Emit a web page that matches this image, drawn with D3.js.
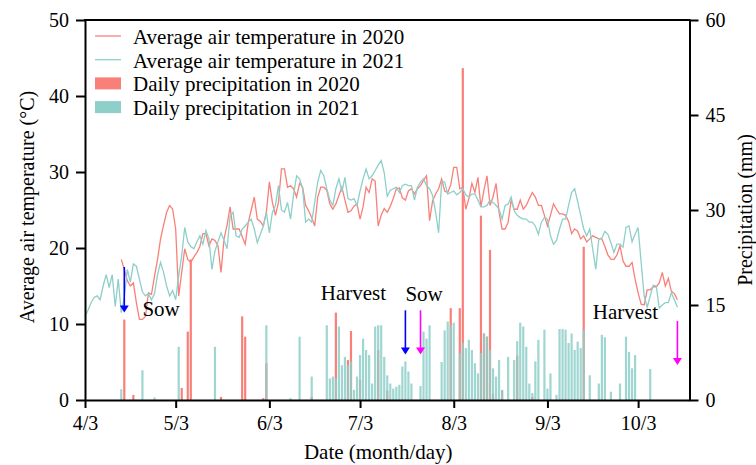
<!DOCTYPE html>
<html>
<head>
<meta charset="utf-8">
<script src="https://cdn.jsdelivr.net/npm/d3@7"></script>
<style>
body { margin: 0; background: #fff; }
svg text { font-family: "Liberation Serif", "Times New Roman", serif; fill: #000; }
</style>
</head>
<body>
<svg id="chart" width="756" height="465"></svg>
<script>
var YEAR = 2021;
var xStart = '4/3', xEnd = '10/20';
var dateTicks = ['4/3', '5/3', '6/3', '7/3', '8/3', '9/3', '10/3'];
var tempTicks = [0, 10, 20, 30, 40, 50];
var precipTicks = [0, 15, 30, 45, 60];

// daily mean air temperature, consecutive days from the start date
var temp2020Start = '4/15';
var temp2020 = [
  18.5, 17.2, 15.7, 15.0, 15.4, 12.8, 10.6, 10.6, 11.0, 14.1,
  13.9, 16.3, 18.5, 21.2, 23.0, 24.7, 25.6, 25.1, 22.5, 13.7,
  16.8, 19.9, 18.5, 18.1, 18.8, 19.4, 20.2, 21.9, 21.9, 20.3,
  21.2, 21.0, 20.3, 16.8, 21.2, 23.0, 25.4, 22.5, 22.5, 22.5,
  21.5, 20.5, 23.3, 25.0, 26.7, 23.8, 23.5, 22.9, 24.7, 28.7,
  26.0, 24.3, 26.0, 30.4, 30.4, 28.0, 28.2, 27.8, 26.7, 28.5,
  28.0, 25.6, 24.9, 24.0, 22.9, 26.7, 28.0, 28.0, 27.6, 25.8,
  25.1, 25.8, 26.9, 28.0, 26.3, 24.7, 24.9, 25.5, 25.8, 23.8,
  25.4, 28.0, 27.3, 29.1, 28.8, 22.9, 24.3, 25.2, 24.7, 25.5,
  26.5, 27.8, 27.9, 26.6, 26.3, 27.5, 27.8, 27.1, 27.8, 28.2,
  28.9, 29.5, 23.6, 26.2, 27.1, 27.8, 29.1, 27.5, 27.3, 28.3,
  30.6, 30.6, 27.8, 28.0, 25.1, 26.5, 28.5, 27.3, 29.3, 25.4,
  27.6, 29.5, 25.6, 26.7, 28.5, 24.7, 22.5, 22.5, 23.4, 26.3,
  25.1, 25.1, 26.3, 25.1, 25.6, 26.5, 27.3, 26.7, 25.6, 25.6,
  24.3, 22.9, 24.3, 25.8, 25.1, 24.5, 24.5, 24.3, 23.5, 21.9,
  22.5, 22.2, 21.2, 21.6, 20.8, 21.2, 21.6, 21.4, 21.2, 21.2,
  20.2, 19.1, 18.5, 18.5, 19.1, 20.3, 18.3, 17.6, 17.6, 18.1,
  15.9, 14.1, 12.6, 12.5, 14.5, 14.5, 14.9, 14.9, 15.4, 16.8,
  15.0, 16.0, 14.3, 14.0, 13.2
];
var temp2021Start = '4/3';
var temp2021 = [
  11.0, 11.8, 12.8, 13.5, 13.7, 13.2, 15.0, 16.5, 14.8, 16.5,
  12.3, 15.9, 11.5, 13.5, 17.2, 15.5, 17.9, 17.6, 15.9, 14.2,
  13.7, 14.0, 13.2, 14.0, 16.5, 18.1, 16.8, 15.0, 13.7, 14.4,
  13.2, 16.3, 19.0, 22.7, 20.8, 20.2, 19.9, 20.8, 21.6, 20.5,
  22.3, 21.2, 17.2, 19.6, 20.8, 22.0, 21.0, 19.9, 24.2, 24.7,
  21.6, 21.4, 22.5, 22.9, 23.4, 23.8, 22.5, 20.7, 21.8, 22.9,
  24.7, 22.0, 24.7, 25.6, 28.2, 25.0, 24.7, 26.0, 23.8, 27.0,
  29.5, 29.1, 27.8, 23.4, 23.8, 23.4, 26.0, 28.7, 30.2, 29.5,
  27.8, 26.3, 25.6, 27.8, 29.1, 27.4, 29.3, 26.5, 26.3, 26.5,
  25.6, 27.5, 29.1, 30.4, 29.1, 29.5, 30.2, 30.9, 31.5, 29.9,
  26.8, 27.6, 27.8, 28.0, 27.3, 28.2, 28.4, 28.2, 28.2, 26.3,
  28.0, 28.7, 29.1, 28.2, 27.8, 26.9, 24.7, 22.0, 28.7, 28.7,
  27.1, 27.3, 27.5, 27.0, 27.3, 27.8, 27.0, 26.7, 27.1, 27.1,
  26.3, 25.4, 25.4, 25.6, 26.3, 26.0, 25.6, 25.1, 23.8, 25.6,
  25.8, 26.7, 24.9, 24.3, 24.0, 23.8, 23.8, 23.4, 23.4, 22.9,
  21.8, 23.4, 24.0, 23.8, 21.6, 20.5, 21.0, 22.5, 23.8, 23.8,
  25.6, 27.3, 27.8, 26.1, 24.3, 22.5, 21.6, 22.5, 19.8, 17.2,
  21.2, 21.3, 22.2, 21.8, 20.7, 19.4, 20.5, 20.5, 20.1, 22.7,
  22.9, 20.8, 21.8, 22.7, 18.1, 13.7, 12.2, 13.7, 15.1, 15.0,
  12.1, 12.5, 12.8, 12.8, 14.1, 13.2, 12.2
];

// daily precipitation (mm), rainy days only
var precip2020Dates = ['4/16', '4/19', '5/5', '5/7', '5/8', '5/18', '5/25', '5/26', '6/1', '6/2',
  '6/17', '6/25', '6/29', '6/30', '7/3', '7/9', '7/12', '8/2', '8/5', '8/6',
  '8/12', '8/13', '8/14', '8/15', '8/16', '8/19', '8/24', '8/29', '9/15'];
var precip2020 = [12.7, 0.8, 1.9, 10.8, 22.2, 0.5, 13.2, 10.0, 0.3, 5.8,
  0.5, 13.8, 6.3, 10.9, 3.2, 7.9, 1.5, 14.5, 14.5, 52.4,
  29.1, 10.5, 10.0, 23.7, 1.0, 1.5, 7.0, 0.5, 24.2];

var precip2021Dates = ['4/15', '4/22', '4/26', '5/4', '5/16', '6/2', '6/10', '6/13', '6/17',
  '6/22', '6/23', '6/24', '6/25', '6/26', '6/27', '6/28', '6/29', '6/30',
  '7/1', '7/2', '7/3', '7/4', '7/5', '7/6', '7/7', '7/8', '7/9', '7/10', '7/11',
  '7/12', '7/13', '7/14', '7/15', '7/16', '7/17', '7/18', '7/19', '7/20', '7/23',
  '7/24', '7/25', '7/26', '7/30', '7/31', '8/1', '8/2', '8/3', '8/5', '8/6',
  '8/7', '8/8', '8/9', '8/10', '8/11', '8/12', '8/13', '8/14', '8/15', '8/16',
  '8/17', '8/18', '8/19', '8/21', '8/23', '8/24', '8/25', '8/26', '8/27', '8/28',
  '8/29', '8/30', '8/31', '9/2', '9/3', '9/4', '9/6', '9/7', '9/8', '9/9',
  '9/10', '9/11', '9/12', '9/13', '9/14', '9/15', '9/17', '9/20', '9/21', '9/22',
  '9/24', '9/27', '9/29', '9/30', '10/1', '10/2', '10/7'];
var precip2021 = [1.7, 4.7, 0.4, 8.4, 8.4, 11.8, 0.3, 10.0, 3.7,
  11.8, 3.4, 3.7, 3.4, 11.6, 5.5, 6.8, 5.5, 6.1,
  1.6, 3.7, 7.1, 9.7, 7.9, 7.1, 2.6, 11.6, 11.8, 11.8, 6.8,
  3.9, 2.6, 1.8, 2.1, 2.4, 5.3, 6.1, 4.5, 2.6, 2.2,
  10.8, 9.7, 11.8, 6.0, 11.0, 12.4, 11.8, 12.2, 7.4, 9.0,
  8.2, 9.5, 7.9, 5.8, 4.2, 7.4, 10.5, 10.0, 7.9, 5.0,
  3.7, 6.3, 1.6, 6.8, 6.3, 9.3, 12.2, 11.6, 8.4, 2.6,
  1.1, 6.1, 9.5, 11.1, 1.8, 4.2, 0.8, 11.2, 11.2, 11.1,
  9.0, 10.5, 7.9, 9.2, 8.2, 11.1, 3.9, 2.6, 10.3, 9.9,
  1.3, 2.6, 10.0, 7.6, 5.0, 7.1, 4.9];

// sowing / harvest markers (date, temperature-axis span)
var arrowDates = ['4/16', '7/18', '7/23', '10/16'];
var arrowFrom = [17.5, 11.8, 11.8, 10.4];
var arrowTo = [11.5, 6.0, 6.0, 4.6];
var arrowColors = ['#0000ff', '#0000ff', '#ff00ff', '#ff00ff'];
var noteTexts = ['Sow', 'Harvest', 'Sow', 'Harvest'];
var noteDates = ['4/22', '6/20', '7/18', '9/18'];
var noteTemps = [11.0, 13.2, 13.0, 10.6];

var legendLabels = ['Average air temperature in 2020', 'Average air temperature in 2021',
  'Daily precipitation in 2020', 'Daily precipitation in 2021'];

var RED = '#f98079', TEAL = '#8ecfc9';

function md(s) { var p = s.split('/'); return new Date(YEAR, +p[0] - 1, +p[1]); }
function series(start, vals) {
  var d0 = md(start);
  return vals.map(function(v, i) { return { date: d3.timeDay.offset(d0, i), v: v }; });
}
function pairs(dates, vals) {
  return dates.map(function(s, i) { return { date: md(s), v: vals[i] }; });
}

var svg = d3.select('#chart');
var L = 85, R = 689.5, T = 20, B = 400;

var x = d3.scaleTime().domain([md(xStart), md(xEnd)]).range([L, R]);
var yT = d3.scaleLinear().domain([0, 50]).range([B, T]);
var yP = d3.scaleLinear().domain([0, 60]).range([B, T]);

// bars
var bw = 2.2;
svg.append('g').selectAll('rect').data(pairs(precip2020Dates, precip2020)).enter().append('rect')
  .attr('x', function(d) { return x(d.date) - bw / 2; }).attr('width', bw)
  .attr('y', function(d) { return yP(d.v); }).attr('height', function(d) { return B - yP(d.v); })
  .attr('fill', RED);
svg.append('g').selectAll('rect').data(pairs(precip2021Dates, precip2021)).enter().append('rect')
  .attr('x', function(d) { return x(d.date) - bw / 2; }).attr('width', bw)
  .attr('y', function(d) { return yP(d.v); }).attr('height', function(d) { return B - yP(d.v); })
  .attr('fill', TEAL).attr('fill-opacity', 0.85);

// temperature lines
var line = d3.line().x(function(d) { return x(d.date); }).y(function(d) { return yT(d.v); });
svg.append('path').datum(series(temp2020Start, temp2020)).attr('d', line)
  .attr('fill', 'none').attr('stroke', RED).attr('stroke-width', 1.3);
svg.append('path').datum(series(temp2021Start, temp2021)).attr('d', line)
  .attr('fill', 'none').attr('stroke', TEAL).attr('stroke-width', 1.3);

// arrows and notes
arrowDates.forEach(function(s, i) {
  var ax = x(md(s)), y0 = yT(arrowFrom[i]), y1 = yT(arrowTo[i]);
  svg.append('line').attr('x1', ax).attr('x2', ax).attr('y1', y0).attr('y2', y1 - 6)
    .attr('stroke', arrowColors[i]).attr('stroke-width', 1.6);
  svg.append('path').attr('d', 'M' + (ax - 4.5) + ',' + (y1 - 7) + 'L' + (ax + 4.5) + ',' + (y1 - 7) + 'L' + ax + ',' + y1 + 'Z')
    .attr('fill', arrowColors[i]);
});
noteTexts.forEach(function(t, i) {
  svg.append('text').attr('x', x(md(noteDates[i]))).attr('y', yT(noteTemps[i]))
    .attr('font-size', 21).text(t);
});

// axes
function styleAxis(g) {
  g.selectAll('path,line').attr('stroke', '#000').attr('stroke-width', 2);
  g.selectAll('text').attr('font-size', 20).attr('fill', '#000')
    .attr('font-family', '"Liberation Serif", "Times New Roman", serif');
}
var fmt = function(d) { return (d.getMonth() + 1) + '/' + d.getDate(); };
svg.append('g').attr('transform', 'translate(0,' + B + ')')
  .call(d3.axisBottom(x).tickValues(dateTicks.map(md)).tickFormat(fmt).tickSize(8).tickSizeOuter(0).tickPadding(8))
  .call(styleAxis);
svg.append('g').attr('transform', 'translate(' + L + ',0)')
  .call(d3.axisLeft(yT).tickValues(tempTicks).tickSize(9).tickSizeOuter(0).tickPadding(7))
  .call(styleAxis);
svg.append('g').attr('transform', 'translate(' + R + ',0)')
  .call(d3.axisRight(yP).tickValues(precipTicks).tickSize(9).tickSizeOuter(0).tickPadding(7))
  .call(styleAxis);
svg.append('line').attr('x1', L - 1).attr('x2', R + 1).attr('y1', T).attr('y2', T)
  .attr('stroke', '#000').attr('stroke-width', 2);

// axis titles
svg.append('text').attr('x', (L + R) / 2 - 9).attr('y', 459).attr('text-anchor', 'middle')
  .attr('font-size', 21).text('Date (month/day)');
svg.append('text').attr('transform', 'translate(34,207) rotate(-90)').attr('text-anchor', 'middle')
  .attr('font-size', 20).text('Average air temperature (°C)');
svg.append('text').attr('transform', 'translate(752,210) rotate(-90)').attr('text-anchor', 'middle')
  .attr('font-size', 20).text('Precipitation (mm)');

// legend
var lg = svg.append('g');
legendLabels.forEach(function(t, i) {
  var by = 44 + i * 23.7;
  if (i < 2) {
    lg.append('line').attr('x1', 95).attr('x2', 121).attr('y1', by - 8).attr('y2', by - 8)
      .attr('stroke', i === 0 ? RED : TEAL).attr('stroke-width', 1.3);
  } else {
    lg.append('rect').attr('x', 95).attr('y', by - 14).attr('width', 26).attr('height', 12)
      .attr('fill', i === 2 ? RED : TEAL);
  }
  lg.append('text').attr('x', 133).attr('y', by).attr('font-size', 21).text(t);
});
</script>
</body>
</html>
